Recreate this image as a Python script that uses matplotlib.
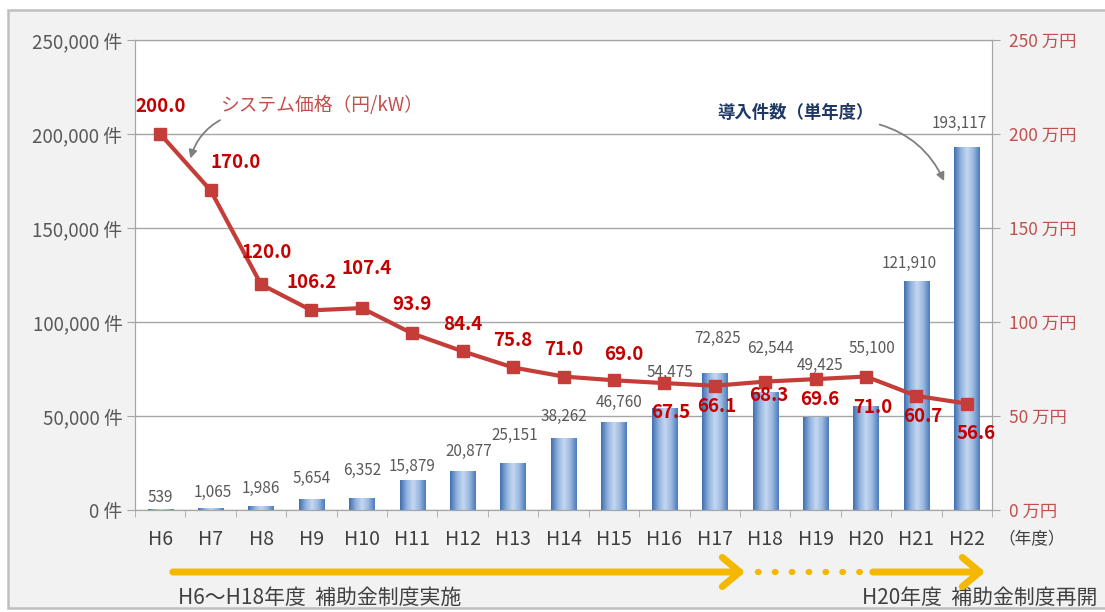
import numpy as np
import matplotlib
matplotlib.use('Agg')
import matplotlib.pyplot as plt
from matplotlib.patches import Rectangle, FancyArrowPatch
from matplotlib.colors import LinearSegmentedColormap

plt.rcParams['font.family'] = ['Noto Sans CJK JP', 'DejaVu Sans']

# ---------------- data ----------------
years = ['H6', 'H7', 'H8', 'H9', 'H10', 'H11', 'H12', 'H13', 'H14',
         'H15', 'H16', 'H17', 'H18', 'H19', 'H20', 'H21', 'H22']
installs = [539, 1065, 1986, 5654, 6352, 15879, 20877, 25151, 38262,
            46760, 54475, 72825, 62544, 49425, 55100, 121910, 193117]
prices = [200.0, 170.0, 120.0, 106.2, 107.4, 93.9, 84.4, 75.8, 71.0,
          69.0, 67.5, 66.1, 68.3, 69.6, 71.0, 60.7, 56.6]
count_ticks = [0, 50000, 100000, 150000, 200000, 250000]
price_ticks = [0, 50, 100, 150, 200, 250]

# label placement (pixel offsets from the mark), styling only
price_label_off = [(0, 27), (25, 28), (6, 32), (0, 28), (5, 40), (0, 29), (0, 27),
                   (0, 27), (0, 27), (10, 26), (6, -29), (2, -21), (4, -14),
                   (4, -20), (7, -31), (6, -21), (9, -30)]
bar_label_off = [(0, 11), (2, 16), (0, 18), (0, 21), (0, 28), (0, 14), (6, 19),
                 (2, 27), (0, 22), (5, 20), (6, 35), (3, 35), (5, 44), (5, 52),
                 (6, 58), (-7, 17), (-8, 23)]

W, H = 1105, 612
fig = plt.figure(figsize=(W / 100, H / 100), dpi=100)
fig.patch.set_facecolor('white')


def fx(x):
    return x / W


def fy(y):
    return 1 - y / H


# outer grey panel
panel = Rectangle((fx(8), fy(608)), fx(1105) - fx(8) + 0.01, fy(10) - fy(608),
                  transform=fig.transFigure, facecolor='#f2f2f2',
                  edgecolor='#bfbfbf', lw=1.8, zorder=-5)
fig.patches.append(panel)

ax = fig.add_axes([fx(135), fy(510), fx(992) - fx(135), fy(40) - fy(510)])
ax.set_zorder(1)
ax.set_facecolor('white')
ax2 = ax.twinx()
ax2.set_zorder(2)

x = np.arange(len(years))
bar_w = 0.5
bars = ax.bar(x, installs, width=bar_w, color='#6f97cf', edgecolor='none', zorder=2)

# gradient fill for bars
cmap = LinearSegmentedColormap.from_list('bar', ['#3f6fae', '#8fb1de', '#c5d8f0', '#9ab8e0', '#4a7bbb'])
grad = np.linspace(0, 1, 64).reshape(1, -1)
for b in bars:
    x0, y0 = b.get_x(), b.get_y()
    im = ax.imshow(grad, cmap=cmap, aspect='auto', extent=(x0, x0 + b.get_width(), y0, y0 + b.get_height()),
                   zorder=2.1, interpolation='bicubic')
    im.set_clip_path(b)

ax.set_xlim(-0.5, len(years) - 0.5)
ax.set_ylim(0, 250000)
ax.set_yticks(count_ticks)
ax.set_yticklabels([f'{v:,} 件' for v in count_ticks])
ax.yaxis.grid(True, color='#a6a6a6', lw=1.0, zorder=0)
ax.set_axisbelow(True)
ax.set_xticks(x)
ax.set_xticklabels(years)
ax.set_xticks(np.arange(-0.5, len(years), 1), minor=True)
ax.tick_params(axis='x', which='major', length=0, pad=14, labelsize=14, labelcolor='#404040')
ax.tick_params(axis='x', which='minor', length=5, color='#a6a6a6')
ax.tick_params(axis='y', length=6, color='#a6a6a6', labelsize=13.5, labelcolor='#595959', pad=3)
for s in ['left', 'bottom', 'top', 'right']:
    ax.spines[s].set_color('#a6a6a6')

for i, b in enumerate(bars):
    dx, dy = bar_label_off[i]
    ax.annotate(f'{installs[i]:,}', (x[i], installs[i]), xytext=(dx, dy), textcoords='offset pixels',
                ha='center', va='center', fontsize=11, color='#595959', zorder=3)

# price line
ax2.plot(x, prices, color='#c43d38', lw=3.0, marker='s', markersize=8, zorder=5)
ax2.set_ylim(0, 250)
ax2.set_yticks(price_ticks)
ax2.set_yticklabels([f'{v} 万円' for v in price_ticks])
ax2.tick_params(axis='y', length=6, color='#a6a6a6', labelsize=12.5, labelcolor='#c0504d', pad=6)
for s in ['left', 'bottom', 'top', 'right']:
    ax2.spines[s].set_color('#a6a6a6')
ax2.patch.set_visible(False)

for i, p in enumerate(prices):
    dx, dy = price_label_off[i]
    ax2.annotate(f'{p:.1f}', (x[i], p), xytext=(dx, dy), textcoords='offset pixels',
                 ha='center', va='center', fontsize=13.5, fontweight='bold', color='#c40000', zorder=6)

# series callouts
ax2.annotate('システム価格（円/kW）', xy=(0.6, 187), xycoords='data',
             xytext=(fx(220), fy(105)), textcoords='figure fraction',
             ha='left', va='center', fontsize=13.5, color='#c0504d',
             arrowprops=dict(arrowstyle='-|>', color='#7f7f7f', lw=1.3,
                             connectionstyle='arc3,rad=0.25', shrinkA=3, shrinkB=0,
                             relpos=(0.05, 0.0), mutation_scale=12))
ax2.annotate('導入件数（単年度）', xy=(15.55, 175), xycoords='data',
             xytext=(fx(796), fy(113)), textcoords='figure fraction',
             ha='center', va='center', fontsize=12.5, fontweight='bold', color='#1f3864',
             arrowprops=dict(arrowstyle='-|>', color='#7f7f7f', lw=1.3,
                             connectionstyle='arc3,rad=-0.25', shrinkA=2, shrinkB=0,
                             relpos=(0.97, 0.0), mutation_scale=12))

fig.text(fx(998), fy(540), '（年度）', ha='left', va='center', fontsize=12, color='#404040')

# subsidy period arrows
arrow_c = '#f5b800'
fig.patches.append(FancyArrowPatch((fx(170), fy(572)), (fx(748), fy(572)), transform=fig.transFigure,
                                   arrowstyle='->,head_length=0.9,head_width=0.75', color=arrow_c,
                                   lw=5, mutation_scale=14, capstyle='round', joinstyle='round', zorder=5))
fig.lines.append(plt.Line2D([fx(758), fx(866)], [fy(572), fy(572)], transform=fig.transFigure,
                            color=arrow_c, lw=4.5, linestyle=(0, (0.1, 2.6)), dash_capstyle='round', zorder=5))
fig.patches.append(FancyArrowPatch((fx(870), fy(572)), (fx(988), fy(572)), transform=fig.transFigure,
                                   arrowstyle='->,head_length=0.9,head_width=0.75', color=arrow_c,
                                   lw=5, mutation_scale=14, capstyle='round', joinstyle='round', zorder=5))
fig.text(fx(178), fy(598), 'H6～H18年度  補助金制度実施', ha='left', va='center', fontsize=15, color='#404040')
fig.text(fx(862), fy(598), 'H20年度  補助金制度再開', ha='left', va='center', fontsize=15, color='#404040')

fig.savefig('out.png', dpi=100, facecolor=fig.get_facecolor())
